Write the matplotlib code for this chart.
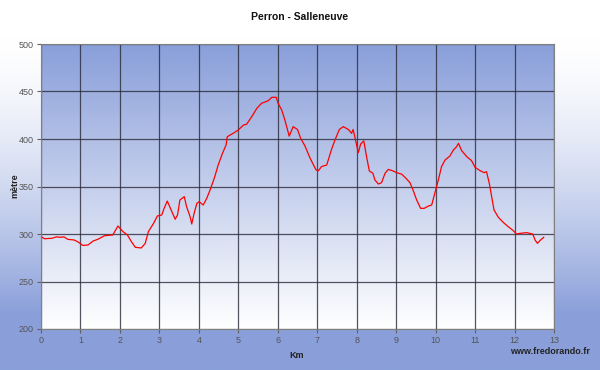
import numpy as np
import matplotlib
matplotlib.use("Agg")
import matplotlib.pyplot as plt
from matplotlib.colors import LinearSegmentedColormap

plt.rcParams['font.family'] = ['Liberation Sans', 'DejaVu Sans']

# profil altimetrique (km, metres)
km = [0.03, 0.09, 0.28, 0.39, 0.5, 0.58, 0.68, 0.84, 0.94, 1.06, 1.19, 1.32, 1.44,
      1.61, 1.82, 1.95, 2.08, 2.19, 2.29, 2.39, 2.54, 2.64, 2.72, 2.85, 2.95, 3.06,
      3.12, 3.2, 3.29, 3.4, 3.46, 3.52, 3.63, 3.69, 3.78, 3.82, 3.88, 3.95, 4.01,
      4.11, 4.2, 4.3, 4.39, 4.49, 4.6, 4.69, 4.72, 4.87, 5.0, 5.13, 5.21, 5.34,
      5.47, 5.59, 5.76, 5.85, 5.96, 6.01, 6.1, 6.18, 6.29, 6.39, 6.5, 6.58, 6.69,
      6.82, 6.97, 7.03, 7.11, 7.24, 7.37, 7.45, 7.56, 7.66, 7.79, 7.87, 7.91, 7.97,
      8.04, 8.1, 8.18, 8.25, 8.32, 8.41, 8.46, 8.55, 8.63, 8.72, 8.8, 8.91, 9.01,
      9.14, 9.25, 9.35, 9.43, 9.52, 9.62, 9.71, 9.82, 9.9, 9.98, 10.07, 10.15,
      10.24, 10.36, 10.45, 10.52, 10.58, 10.66, 10.79, 10.91, 11.0, 11.13, 11.23,
      11.29, 11.36, 11.42, 11.48, 11.59, 11.72, 11.84, 11.95, 12.05, 12.14, 12.31,
      12.46, 12.52, 12.58, 12.66, 12.74]
alt = [296.5, 295, 295.5, 297, 296.5, 297, 294.4, 293.7, 291.6, 288, 288.4, 292.6, 294.4,
       298.2, 299, 308.4, 302.4, 299, 292, 286, 285.3, 290, 302.4, 311, 319, 320,
       327, 334.7, 326, 315.5, 320, 335.8, 339.3, 328.7, 318, 310.5, 321.8, 332.3, 334,
       330.5, 337.5, 348, 358.6, 372.6, 385, 393.7, 402.4, 406, 409.5, 414.7, 415.5, 423.5,
       432.3, 437.6, 440.3, 443.9, 443.9, 437.6, 430.5, 420, 403, 413, 410, 400.7, 392.6,
       379.7, 367.4, 366.6, 371, 372.6, 390, 399, 410, 413, 410, 406, 410, 399,
       385.6, 394.7, 398, 381.4, 366.3, 364, 357, 352.6, 354, 364, 368, 366.6, 364.6,
       363, 358.6, 354, 346, 335.8, 327, 327, 329.5, 330.5, 342.8, 357, 371,
       377.9, 382, 388.4, 391.3, 395.4, 387.7, 381.4, 377.2, 370.2, 366.6, 364.6,
       365.6, 353.4, 339.3, 325.3, 317.6, 312, 307.7, 304.2, 300, 300.7, 301.4,
       300, 293.7, 290.2, 293.7, 296.5]

xticks = list(range(0, 14))
yticks = list(range(200, 501, 50))

blue = np.array([0x8a, 0x9f, 0xda]) / 255.0
white = np.array([1.0, 1.0, 1.0])

fig = plt.figure(figsize=(6, 3.7), dpi=100)

# fond de la figure : blanc en haut, bleu en bas
bg = fig.add_axes([0, 0, 1, 1], zorder=-10)
t = np.linspace(0, 1, 256)
s = np.clip((t - 0.1) / 0.75, 0, 1) ** 1.5
grad = white[None, :] * (1 - s[:, None]) + blue[None, :] * s[:, None]
bg.imshow(grad[:, None, :], aspect='auto', extent=[0, 1, 0, 1])
bg.axis('off')

ax = fig.add_axes([41 / 600, 41 / 370, 513 / 600, 285 / 370])
ax.set_xlim(0, 13)
ax.set_ylim(200, 500)

# fond de la zone de trace : bleu en haut, blanc en bas
cmap = LinearSegmentedColormap.from_list('bw', [white, blue])
ax.imshow(np.linspace(0, 1, 256)[:, None], cmap=cmap, aspect='auto',
          extent=[0, 13, 200, 500], origin='lower', zorder=0)

ax.set_xticks(xticks)
ax.set_yticks(yticks)
ax.grid(True, color='#2a2a38', linewidth=0.9, alpha=0.8, zorder=1)
ax.plot(km, alt, color='#ff0000', linewidth=0.9, zorder=3)

for sp in ax.spines.values():
    sp.set_color('#808080')
    sp.set_linewidth(0.8)
ax.tick_params(labelsize=6.5, colors='#606060', length=3, width=0.8, pad=2)
for lab in ax.get_xticklabels() + ax.get_yticklabels():
    lab.set_color('#555555')

fig.text(0.5, 1 - 17 / 370, 'Perron - Salleneuve', ha='center', va='center',
         fontsize=7.5, fontweight='bold', color='#111111')
fig.text(15 / 600, 1 - 186 / 370, 'mètre', ha='center', va='center', rotation=90,
         fontsize=6.5, fontweight='bold', color='#222222')
fig.text(297 / 600, 1 - 355 / 370, 'Km', ha='center', va='center',
         fontsize=6.5, fontweight='bold', color='#222222')
fig.text(590 / 600, 1 - 352 / 370, 'www.fredorando.fr', ha='right', va='center',
         fontsize=6.5, fontweight='bold', color='#222222')

fig.savefig('out.png', dpi=100)
